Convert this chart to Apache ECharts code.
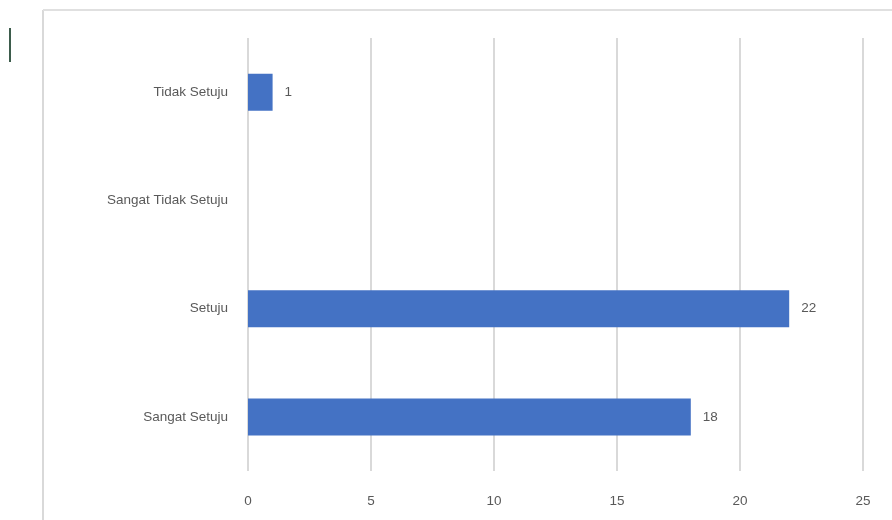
<!DOCTYPE html>
<html><head><meta charset="utf-8">
<script src="https://cdn.jsdelivr.net/npm/echarts@6/dist/echarts.min.js"></script>
<style>html,body{margin:0;padding:0;background:#fff}#c{width:892px;height:520px}</style>
</head><body><div id="c"></div>
<script>
var categories = ['Sangat Setuju', 'Setuju', 'Sangat Tidak Setuju', 'Tidak Setuju'];
var values = [18, 22, null, 1];
var tickLabels = [0, 5, 10, 15, 20, 25];

var chart = echarts.init(document.getElementById('c'), null, {renderer: 'canvas'});
chart.setOption({
  animation: false,
  backgroundColor: '#ffffff',
  graphic: [
    {type: 'line', shape: {x1: 43, y1: 10, x2: 43, y2: 520}, style: {stroke: '#d9d9d9', lineWidth: 2}},
    {type: 'line', shape: {x1: 43, y1: 10, x2: 892, y2: 10}, style: {stroke: '#e0e0e0', lineWidth: 2}},
    {type: 'rect', shape: {x: 9, y: 28, width: 2, height: 34}, style: {fill: '#3d5c4c'}}
  ],
  grid: {left: 248, right: 29, top: 38, bottom: 49, containLabel: false},
  xAxis: {
    type: 'value', min: tickLabels[0], max: tickLabels[tickLabels.length - 1], interval: 5,
    axisLine: {show: false}, axisTick: {show: false},
    splitLine: {show: true, lineStyle: {color: '#d9d9d9', width: 2}},
    axisLabel: {color: '#595959', fontSize: 13.5, fontFamily: 'Liberation Sans', margin: 23}
  },
  yAxis: {
    type: 'category', data: categories,
    axisLine: {show: false}, axisTick: {show: false},
    axisLabel: {color: '#595959', fontSize: 13.5, fontFamily: 'Liberation Sans', margin: 20}
  },
  series: [{
    type: 'bar', data: values, barWidth: 37,
    itemStyle: {color: '#4472C4'},
    label: {show: true, position: 'right', distance: 12, color: '#595959', fontSize: 13.5, fontFamily: 'Liberation Sans'}
  }]
});
</script></body></html>
